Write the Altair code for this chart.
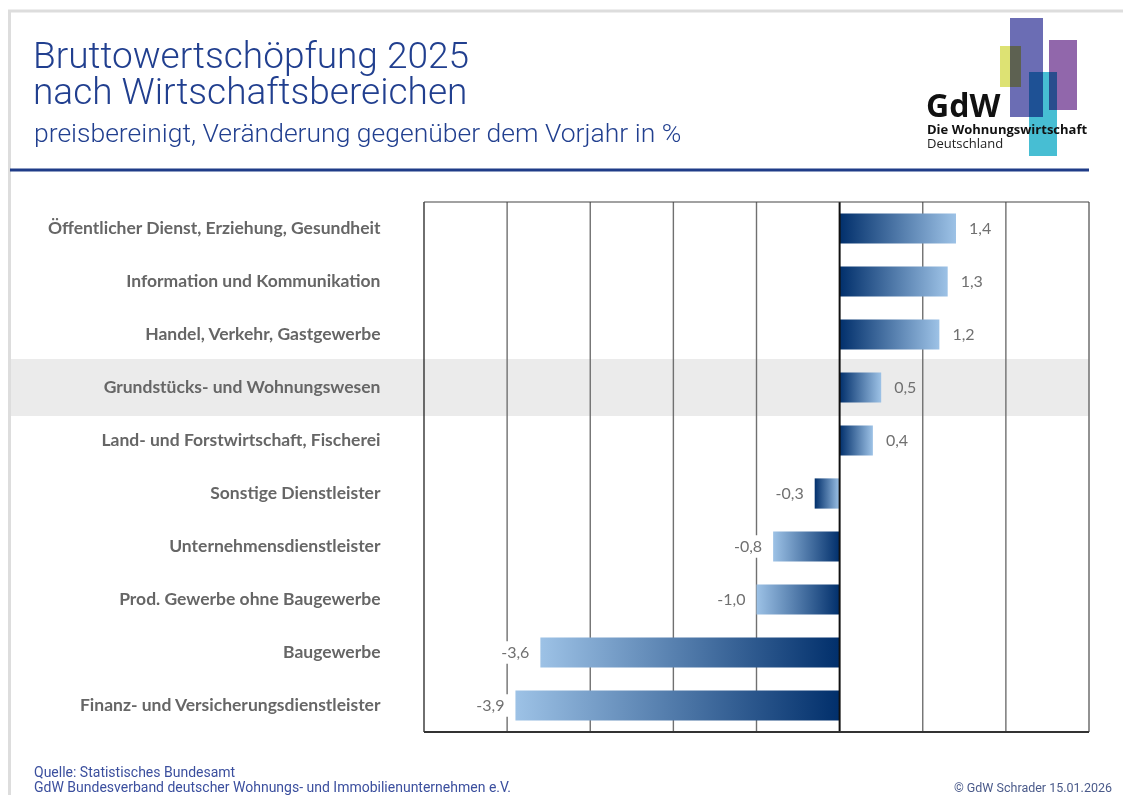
import altair as alt
import pandas as pd

# ---------------- data ----------------
categories = [
    "Öffentlicher Dienst, Erziehung, Gesundheit",
    "Information und Kommunikation",
    "Handel, Verkehr, Gastgewerbe",
    "Grundstücks- und Wohnungswesen",
    "Land- und Forstwirtschaft, Fischerei",
    "Sonstige Dienstleister",
    "Unternehmensdienstleister",
    "Prod. Gewerbe ohne Baugewerbe",
    "Baugewerbe",
    "Finanz- und Versicherungsdienstleister",
]
values = [1.4, 1.3, 1.2, 0.5, 0.4, -0.3, -0.8, -1.0, -3.6, -3.9]
highlight = "Grundstücks- und Wohnungswesen"
grid_values = [-4, -3, -2, -1, 1, 2]
x_domain = [-5, 3]

title_lines = ["Bruttowertschöpfung 2025", "nach Wirtschaftsbereichen"]
subtitle = "preisbereinigt, Veränderung gegenüber dem Vorjahr in %"
source_lines = ["Quelle: Statistisches Bundesamt",
                "GdW Bundesverband deutscher Wohnungs- und Immobilienunternehmen e.V."]
copyright_text = "© GdW Schrader 15.01.2026"

labels = [f"{v:.1f}".replace(".", ",") for v in values]
df = pd.DataFrame({"cat": categories, "value": values, "label": labels})
df["value2"] = df["value"]
grid_df = pd.DataFrame({"g": grid_values})
one = pd.DataFrame({"k": [0]})

# ---------------- layout helpers ----------------
W, H = 665, 530
OX, OY = 424, 202  # absolute page position of plot origin


def px(a):
    return a - OX


def py(a):
    return a - OY


LABEL_FONT = "Lato"
TITLE_FONT = "Roboto"
BLUE = "#213f8f"
DARK = "#012f6b"
LIGHT = "#9dc2e6"

xscale = alt.Scale(domain=x_domain, nice=False, zero=False)
yenc = alt.Y(
    "cat:N",
    sort=categories,
    scale=alt.Scale(paddingInner=0.43, paddingOuter=0.215),
    axis=alt.Axis(
        title=None, domain=False, ticks=False, grid=False, zindex=2,
        labelPadding=44, labelFont=LABEL_FONT, labelFontSize=17.5,
        labelFontWeight="bold", labelColor="#666666", labelLimit=420,
    ),
)

grad_fwd = alt.Gradient(
    gradient="linear",
    stops=[alt.GradientStop(color=DARK, offset=0), alt.GradientStop(color=LIGHT, offset=1)],
    x1=0, x2=1, y1=0, y2=0,
)
grad_rev = alt.Gradient(
    gradient="linear",
    stops=[alt.GradientStop(color=LIGHT, offset=0), alt.GradientStop(color=DARK, offset=1)],
    x1=0, x2=1, y1=0, y2=0,
)

base = alt.Chart(df)

band = base.transform_filter(alt.datum.cat == highlight).mark_bar(
    color="#ebebeb", height=alt.RelativeBandSize(1.89)
).encode(y=yenc, x=alt.value(px(10)), x2=alt.value(W))

grid = alt.Chart(grid_df).mark_rule(color="#707070", strokeWidth=1.4).encode(
    x=alt.X("g:Q", scale=xscale, axis=None)
)

label_boxes = base.transform_filter(alt.datum.value < 0).mark_bar(
    color="white", height=alt.RelativeBandSize(0.75), xOffset=-42, x2Offset=-2
).encode(y=yenc, x=alt.X("value:Q", scale=xscale, axis=None), x2="value2:Q")

bars_fwd = base.transform_filter(alt.datum.value >= -0.3).mark_bar(color=grad_fwd).encode(
    y=yenc, x=alt.X("value:Q", scale=xscale, axis=None)
)
bars_rev = base.transform_filter(alt.datum.value < -0.3).mark_bar(color=grad_rev).encode(
    y=yenc, x=alt.X("value:Q", scale=xscale, axis=None)
)

zero_line = alt.Chart(one).mark_rule(color="#111111", strokeWidth=2).encode(
    x=alt.X("z:Q", scale=xscale, axis=None)
).transform_calculate(z="0")

frame_left = alt.Chart(one).mark_rule(color="#222222", strokeWidth=1.3).encode(
    x=alt.value(0), y=alt.value(0), y2=alt.value(H))
frame_right = alt.Chart(one).mark_rule(color="#777777", strokeWidth=1.6).encode(
    x=alt.value(W), y=alt.value(0), y2=alt.value(H))
frame_top = alt.Chart(one).mark_rule(color="#444444", strokeWidth=1.2).encode(
    y=alt.value(0), x=alt.value(0), x2=alt.value(W))
frame_bottom = alt.Chart(one).mark_rule(color="#333333", strokeWidth=2).encode(
    y=alt.value(H), x=alt.value(0), x2=alt.value(W))

lab_pos = base.transform_filter(alt.datum.value >= 0).mark_text(
    align="left", baseline="middle", dx=13, font=LABEL_FONT, fontSize=16, color="#707070"
).encode(y=yenc, x=alt.X("value:Q", scale=xscale, axis=None), text="label:N")
lab_neg = base.transform_filter(alt.datum.value < 0).mark_text(
    align="right", baseline="middle", dx=-11, font=LABEL_FONT, fontSize=16, color="#707070"
).encode(y=yenc, x=alt.X("value:Q", scale=xscale, axis=None), text="label:N")

# ---------------- decorations ----------------
deco = []
# outer light frame lines
deco.append(alt.Chart(one).mark_rule(color="#dddddd", strokeWidth=3).encode(
    x=alt.value(px(9.5)), y=alt.value(py(10)), y2=alt.value(py(803))))
deco.append(alt.Chart(one).mark_rule(color="#dddddd", strokeWidth=3).encode(
    y=alt.value(py(11)), x=alt.value(px(8)), x2=alt.value(px(1131))))
# blue header line
deco.append(alt.Chart(one).mark_rule(color="#1f3c88", strokeWidth=3).encode(
    y=alt.value(py(170)), x=alt.value(px(10)), x2=alt.value(px(1089))))

# titles
deco.append(alt.Chart(one).mark_text(
    text=title_lines[0], align="left", baseline="alphabetic", font=TITLE_FONT,
    fontWeight=300, fontSize=37, color=BLUE).encode(x=alt.value(px(33)), y=alt.value(py(68))))
deco.append(alt.Chart(one).mark_text(
    text=title_lines[1], align="left", baseline="alphabetic", font=TITLE_FONT,
    fontWeight=300, fontSize=37, color=BLUE).encode(x=alt.value(px(33)), y=alt.value(py(104))))
deco.append(alt.Chart(one).mark_text(
    text=subtitle, align="left", baseline="alphabetic", font=TITLE_FONT,
    fontWeight=300, fontSize=26.5, color=BLUE).encode(x=alt.value(px(34)), y=alt.value(py(142))))

# logo
logo_rects = [
    (1000, 1021, 46, 87, "#dde273"),
    (1010, 1043, 18, 117, "#6b6db4"),
    (1049, 1077, 40, 110, "#9167ab"),
    (1029, 1057, 72, 156, "#47bed3"),
]
for x1, x2, y1, y2, c in logo_rects:
    deco.append(alt.Chart(one).mark_rect(color=c, blend="multiply").encode(
        x=alt.value(px(x1)), x2=alt.value(px(x2)), y=alt.value(py(y1)), y2=alt.value(py(y2))))
deco.append(alt.Chart(one).mark_text(
    text="GdW", align="left", baseline="alphabetic", font="Open Sans", fontWeight="bold",
    fontSize=32, color="#111111").encode(x=alt.value(px(926)), y=alt.value(py(117))))
deco.append(alt.Chart(one).mark_text(
    text="Die Wohnungswirtschaft", align="left", baseline="alphabetic", font="Open Sans",
    fontWeight="bold", fontSize=13, color="#111111").encode(x=alt.value(px(927)), y=alt.value(py(134))))
deco.append(alt.Chart(one).mark_text(
    text="Deutschland", align="left", baseline="alphabetic", font="Open Sans",
    fontSize=13, color="#222222").encode(x=alt.value(px(927)), y=alt.value(py(148))))

# footer
deco.append(alt.Chart(one).mark_text(
    text=source_lines[0], align="left", baseline="alphabetic", font=TITLE_FONT,
    fontSize=14, color="#3b4f9e").encode(x=alt.value(px(34)), y=alt.value(py(777))))
deco.append(alt.Chart(one).mark_text(
    text=source_lines[1], align="left", baseline="alphabetic", font=TITLE_FONT,
    fontSize=14, color="#3b4f9e").encode(x=alt.value(px(34)), y=alt.value(py(792))))
deco.append(alt.Chart(one).mark_text(
    text=copyright_text, align="right", baseline="alphabetic", font=TITLE_FONT,
    fontSize=12.5, color="#4a5a8a").encode(x=alt.value(px(1112)), y=alt.value(py(792))))

chart = alt.layer(
    band, grid, label_boxes, bars_fwd, bars_rev, zero_line,
    frame_left, frame_right, frame_top, frame_bottom,
    lab_pos, lab_neg, *deco,
).properties(
    width=W, height=H,
    autosize=alt.AutoSizeParams(type="none"),
    padding={"left": 416, "top": 194, "right": 34, "bottom": 63},
    background="white",
).configure_view(stroke=None)

chart.save("out.html", embed_options={"renderer": "svg", "actions": False})
